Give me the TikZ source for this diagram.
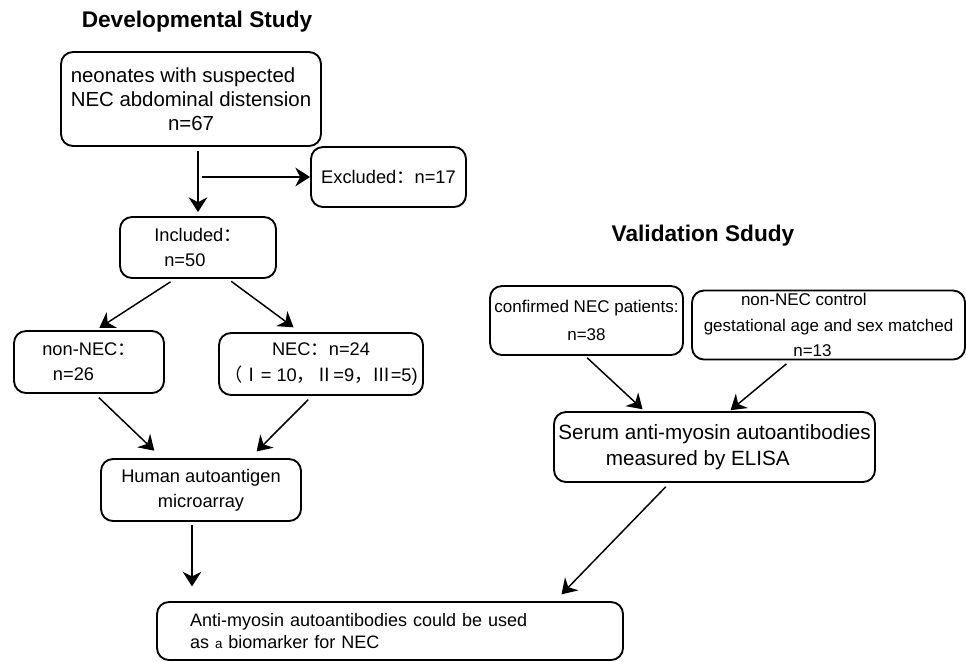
\documentclass[tikz,border=0pt]{standalone}
\usepackage{fontspec}
\setmainfont{Liberation Sans}
\newfontfamily\cjk{Noto Sans CJK SC}
\usetikzlibrary{arrows.meta}
\newcommand{\fw}[1]{{\cjk #1}}
\begin{document}
\begin{tikzpicture}[x=0.75pt, y=-0.75pt,
    box/.style = {draw, line width=1.4pt, rounded corners=9pt, inner sep=0pt},
    arr/.style = {-{Stealth[length=11pt,width=14pt]}, line width=1.1pt},
    ttl/.style = {font=\fontsize{17}{20}\selectfont\bfseries}]
\useasboundingbox (0,0) rectangle (966,661);
% titles
\node[ttl] (devttl) at (197,22) {Developmental Study};
\node[ttl] (valttl) at (703,236) {Validation Sdudy};
% developmental study
\node[box, minimum width=195pt, minimum height=70.5pt, align=left,
      font=\fontsize{15.3}{18}\selectfont] (neo) at (191,99)
      {neonates with suspected\\NEC abdominal distension\\\hspace*{73pt}n=67};
\node[box, minimum width=116.25pt, minimum height=45pt,
      font=\fontsize{13.7}{18}\selectfont] (excl) at (388.5,177) {Excluded\fw{：}n=17};
\node[box, minimum width=117pt, minimum height=45.75pt, align=left,
      font=\fontsize{13.7}{19}\selectfont] (incl) at (198,247.5)
      {Included\fw{：}\\\hspace*{7.5pt}n=50};
\node[box, minimum width=112.5pt, minimum height=46.5pt, align=left,
      font=\fontsize{13.7}{19}\selectfont] (nonnec) at (89,362)
      {non-NEC\fw{：}\\\hspace*{8pt}n=26};
\node[box, minimum width=153pt, minimum height=46.5pt, align=center,
      font=\fontsize{13.7}{19}\selectfont] (nec) at (321,364)
      {NEC\fw{：}n=24\\\fw{（Ⅰ}= 10\fw{，Ⅱ}=9\fw{，Ⅲ}=5)};
\node[box, minimum width=150pt, minimum height=46.5pt, align=center,
      font=\fontsize{13.7}{19}\selectfont] (human) at (201,490)
      {Human autoantigen\\microarray};
\node[box, text width=300pt, inner xsep=24.75pt, minimum height=43.5pt, align=left,
      font=\fontsize{13.5}{17}\selectfont] (final) at (390,631)
      {Anti-myosin autoantibodies could be used\\as {\fontsize{10}{10}\selectfont a} biomarker for NEC};
% validation study
\node[box, minimum width=144.75pt, minimum height=51.75pt, align=center,
      font=\fontsize{12.75}{21}\selectfont] (conf) at (586.5,320.5)
      {confirmed NEC patients:\\n=38};
\node[box, minimum width=204.75pt, minimum height=51.75pt, align=center,
      font=\fontsize{12.75}{19}\selectfont] (ctrl) at (828.5,325)
      {non-NEC control\hspace*{37pt}\\gestational age and sex matched\\n=13\hspace*{24pt}};
\node[box, minimum width=240.75pt, minimum height=52.5pt, align=center,
      font=\fontsize{15.5}{19}\selectfont] (serum) at (714.5,447)
      {Serum anti-myosin autoantibodies\\measured by ELISA\hspace*{25pt}};
% connectors
\coordinate (split) at (202,177);
\draw[arr, shorten <=3pt, shorten >=3pt] (incl.north |- neo.south) -- (incl.north);
\draw[arr] (split) -- (excl.west);
\draw[arr, shorten <=4pt, shorten >=3pt] ([xshift=-17.25pt]incl.south) -- ([xshift=5.25pt]nonnec.north);
\draw[arr, shorten <=3pt, shorten >=6pt] ([xshift=22.5pt]incl.south) -- ([xshift=-15.75pt]nec.north);
\draw[arr, shorten <=4pt, shorten >=8pt] ([xshift=4.5pt]nonnec.south) -- ([xshift=-29.25pt]human.north);
\draw[arr, shorten <=4pt, shorten >=7pt] ([xshift=-6.75pt]nec.south) -- ([xshift=36.75pt]human.north);
\draw[arr, shorten <=2pt, shorten >=11pt] ([xshift=-6.75pt]human.south) -- ([xshift=-6.75pt]human.south |- final.north);
\draw[arr, shorten <=2pt, shorten >=2pt] ([xshift=-1pt]conf.south) -- ([xshift=-52.5pt]serum.north);
\draw[arr, shorten <=4pt, shorten >=1pt] ([xshift=-28.5pt]ctrl.south) -- ([xshift=11.25pt]serum.north);
\draw[arr, shorten <=4pt, shorten >=7pt] ([xshift=-33.75pt]serum.south) -- ([xshift=123.75pt]final.north);
\end{tikzpicture}
\end{document}
